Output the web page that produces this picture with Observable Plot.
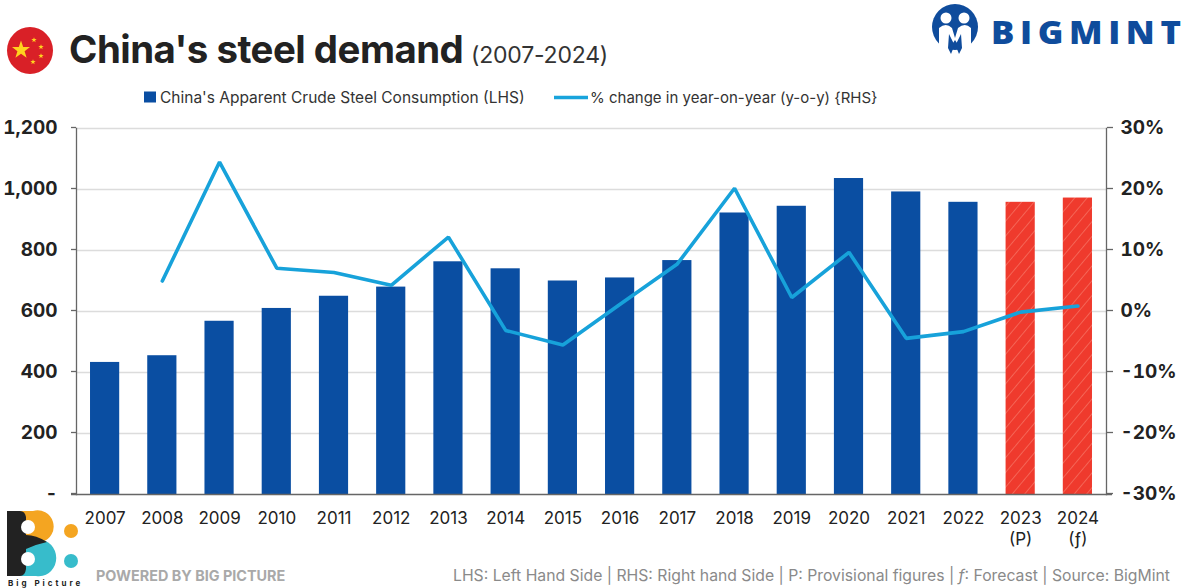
<!DOCTYPE html>
<html>
<head>
<meta charset="utf-8">
<script src="https://cdn.jsdelivr.net/npm/d3@7"></script>
<script src="https://cdn.jsdelivr.net/npm/@observablehq/plot@0.6"></script>
<style>
html,body{margin:0;padding:0;background:#fff;}
#page{position:relative;width:1183px;height:588px;overflow:hidden;font-family:Inter,"Liberation Sans",sans-serif;color:#222;}
#page .t{position:absolute;white-space:nowrap;}
#chart{position:absolute;left:0;top:0;}
svg.deco{position:absolute;overflow:visible;}
</style>
</head>
<body>
<div id="page">
  <div id="chart"></div>

  <svg class="deco" id="flag" style="left:6px;top:26px" width="48" height="50" viewBox="0 0 48 50">
    <ellipse cx="24" cy="24.5" rx="23" ry="23.5" fill="#d92027"/>
  </svg>
  <div class="t" style="left:69px;top:26px;font-size:38.4px;font-weight:700;letter-spacing:-0.5px;color:#222">China's steel demand</div>
  <div class="t" style="left:471px;top:41px;font-size:23px;color:#333;letter-spacing:-0.2px">(2007-2024)</div>

  <svg class="deco" style="left:144px;top:91px" width="14" height="13"><rect x="0" y="0.5" width="12" height="11" fill="#0a4ea2"/></svg>
  <div class="t" style="left:160px;top:88px;font-size:15.5px;color:#333">China's Apparent Crude Steel Consumption (LHS)</div>
  <svg class="deco" style="left:554px;top:95px" width="36" height="5"><line x1="0" y1="2.5" x2="34" y2="2.5" stroke="#19a4dc" stroke-width="3.5"/></svg>
  <div class="t" style="left:590px;top:88px;font-size:15px;color:#333">% change in year-on-year (y-o-y) {RHS}</div>

  <svg class="deco" style="left:932px;top:4px" width="48" height="48" viewBox="0 0 48 48">
    <circle cx="23" cy="23" r="23" fill="#0f4c9c"/>
    <circle cx="14" cy="14" r="5.5" fill="#fff"/><circle cx="32" cy="14" r="5.5" fill="#fff"/>
    <path d="M7 24 q7 -6 13 0 l3 10 3 -10 q7 -6 13 0 l0 24 -8 0 -8 -12 -8 12 -8 0z" fill="#fff"/>
    <path d="M16 44 l1 -14 6 12 6 -12 1 14 -3 6 -4 -10 -4 10z" fill="#0f4c9c"/>
  </svg>
  <div class="t" style="left:991px;top:11px;font-size:31px;font-weight:800;letter-spacing:5px;color:#0f4c9c;font-family:'Open Sans',Inter,sans-serif;transform:scaleX(1.12);transform-origin:left center">BIGMIN<span style="letter-spacing:0">T</span></div>

  <svg class="deco" style="left:6px;top:510px" width="76" height="78" viewBox="0 0 76 78">
    <path d="M14 1 h13 a15.5 15.5 0 0 1 9 31 l-22 -2z" fill="#f4a521"/>
    <path d="M14 33 l22 -3 a16 17 0 0 1 -6 36 h-16z" fill="#37bccb"/>
    <path d="M1 1 h13 q5 0 6 6 l0 18 q10 0 21 7 q-10 2 -21 7 l0 20 q-1 7 -6 7 h-13z" fill="#222"/>
    <circle cx="22" cy="17" r="7" fill="#fff"/><circle cx="22" cy="49" r="7" fill="#fff"/>
    <circle cx="65" cy="21" r="7" fill="#f4a521"/><circle cx="65" cy="51" r="7" fill="#37bccb"/>
  </svg>
  <div class="t" style="left:8px;top:578px;font-size:8px;font-weight:700;letter-spacing:3px;color:#222">Big Picture</div>
  <div class="t" style="left:96px;top:567px;font-size:14.4px;font-weight:700;color:#a9a9a9">POWERED BY BIG PICTURE</div>
  <div class="t" style="left:453px;top:566px;font-size:15.75px;color:#8a8a8a">LHS: Left Hand Side | RHS: Right hand Side | P: Provisional figures | <i>f</i>: Forecast | Source: BigMint</div>
</div>

<script>
const years = ["2007","2008","2009","2010","2011","2012","2013","2014","2015","2016","2017","2018","2019","2020","2021","2022","2023","2024"];
const yearLabels = ["2007","2008","2009","2010","2011","2012","2013","2014","2015","2016","2017","2018","2019","2020","2021","2022","2023\n(P)","2024\n(ƒ)"];
const consumption = [433,455,568,610,650,680,763,740,700,710,767,923,945,1036,992,958,958,972];
const pctChange = [null,5.0,24.5,7.1,6.4,4.3,12.2,-3.1,-5.5,1.2,7.8,20.2,2.3,9.7,-4.4,-3.3,-0.1,0.9];
const flagged = ["2023","2024"];
const lhsTicks = [0,200,400,600,800,1000,1200];
const rhsTicks = [-30,-20,-10,0,10,20,30];

const rhsToLhs = d3.scaleLinear([-30,30],[0,1200]);
const rows = years.map((y,i)=>({year:y,value:consumption[i],pct:pctChange[i]}));
const solid = rows.filter(d=>!flagged.includes(d.year));
const hatched = rows.filter(d=>flagged.includes(d.year));
const lineRows = rows.filter(d=>d.pct!==null);

// flag stars (decoration only)
(function(){
  const ns="http://www.w3.org/2000/svg", flag=document.getElementById("flag");
  [[15,24,9.5],[28,14,2.8],[35,21,2.8],[35,30,2.8],[27,36,2.8]].forEach(([cx,cy,R])=>{
    const pts=[];
    for(let i=0;i<10;i++){const r=i%2?R*0.4:R,a=-Math.PI/2+i*Math.PI/5;pts.push((cx+r*Math.cos(a)).toFixed(1)+","+(cy+r*Math.sin(a)).toFixed(1));}
    const p=document.createElementNS(ns,"polygon");p.setAttribute("points",pts.join(" "));p.setAttribute("fill","#ffd21f");flag.appendChild(p);
  });
})();

const defs = () => {
  const ns="http://www.w3.org/2000/svg";
  const g=document.createElementNS(ns,"defs");
  g.innerHTML=`<pattern id="hatch" patternUnits="userSpaceOnUse" width="9.5" height="9.5" patternTransform="rotate(40)">
    <rect width="9.5" height="9.5" fill="#ef3a2d"/><line x1="0" y1="0" x2="0" y2="9.5" stroke="#f7806f" stroke-width="1.2"/></pattern>`;
  return g;
};

const axisFont={fontFamily:"Inter, 'Liberation Sans', sans-serif",fontSize:19,fontWeight:700,fill:"#222"};

const chart = Plot.plot({
  width:1183,height:588,
  marginLeft:76,marginRight:77,marginTop:128,marginBottom:94,
  style:{background:"transparent",fontFamily:"Inter, 'Liberation Sans', sans-serif",overflow:"visible"},
  x:{type:"band",domain:years,paddingInner:0.49,paddingOuter:0.245,align:0.5,round:false,label:null},
  y:{domain:[0,1200],label:null},
  marks:[
    defs,
    Plot.gridY(lhsTicks.slice(1),{stroke:"#dcdcdc",strokeOpacity:1,strokeWidth:1.3}),
    Plot.barY(solid,{x:"year",y:"value",fill:"#0a4ea2"}),
    Plot.barY(hatched,{x:"year",y:"value",fill:"url(#hatch)"}),
    Plot.frame({anchor:"left",stroke:"#666",strokeWidth:1.3}),
    Plot.frame({anchor:"right",stroke:"#666",strokeWidth:1.3}),
    Plot.axisY({ticks:lhsTicks,anchor:"left",tickSize:5,tickPadding:14,stroke:"#666",strokeWidth:1.3,
      tickFormat:d=>d===0?"-":d3.format(",")(d),label:null,...axisFont,dy:-1}),
    Plot.axisY({ticks:rhsTicks.map(d=>rhsToLhs(d)),anchor:"right",tickSize:6,tickPadding:8,stroke:"#666",strokeWidth:1.3,
      tickFormat:d=>Math.round(rhsToLhs.invert(d))+"%",label:null,...axisFont,dy:-1}),
    Plot.axisX({domain:years,anchor:"bottom",tickSize:0,tickPadding:14,lineHeight:1.25,
      tickFormat:(d)=>yearLabels[years.indexOf(d)],label:null,
      fontFamily:"Inter, 'Liberation Sans', sans-serif",fontSize:17,fontWeight:400,fill:"#222"}),
    Plot.ruleY([0],{stroke:"#666",strokeWidth:1.6,insetLeft:-5,insetRight:-6}),
    Plot.line(lineRows,{x:"year",y:d=>rhsToLhs(d.pct),stroke:"#17a2da",strokeWidth:3.6,curve:"linear",strokeLinejoin:"miter",strokeLinecap:"round"})
  ]
});
document.getElementById("chart").appendChild(chart);
</script>
</body>
</html>
